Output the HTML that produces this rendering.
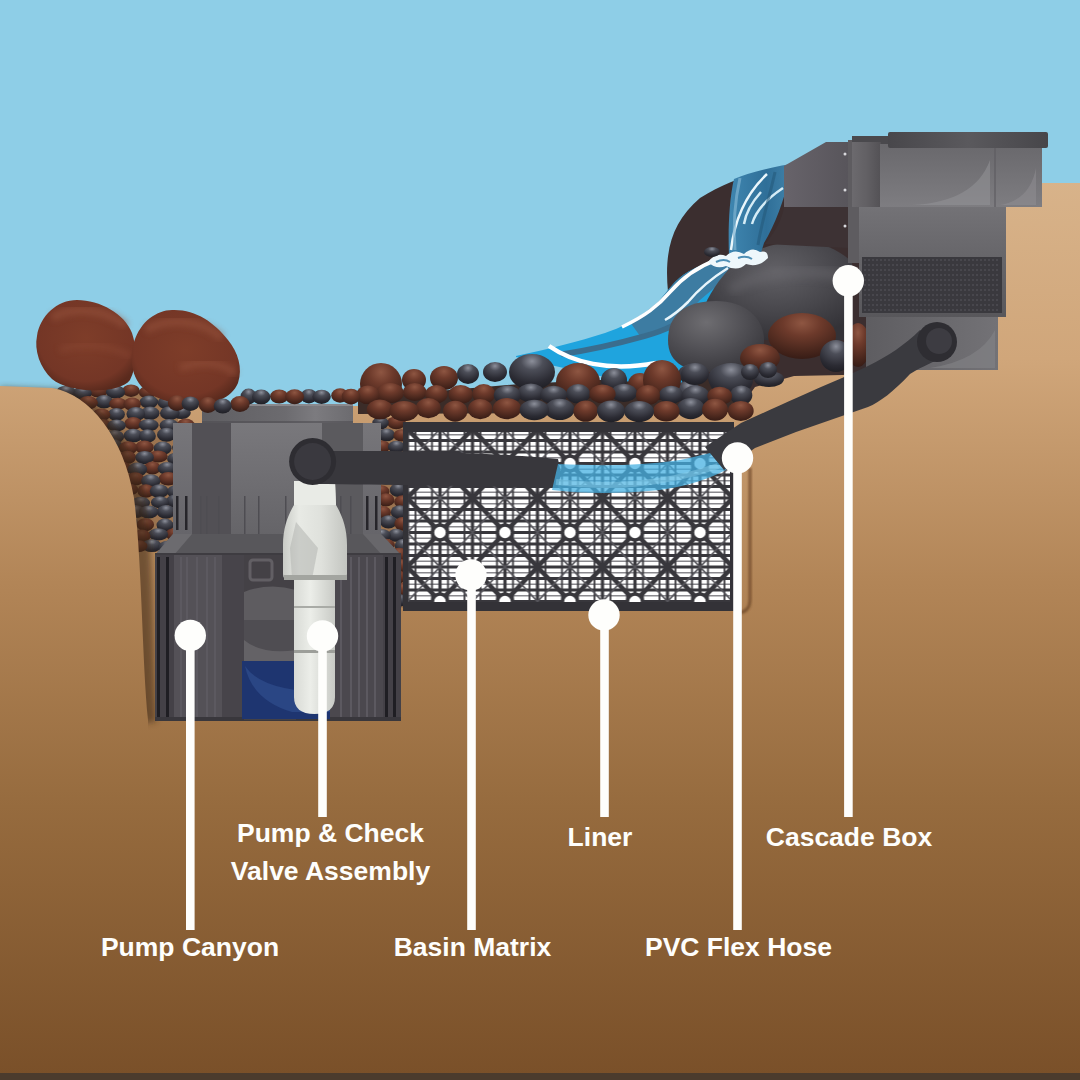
<!DOCTYPE html>
<html><head><meta charset="utf-8"><style>
html,body{margin:0;padding:0;background:#8ecee7;overflow:hidden;}
svg{display:block;}
text{font-family:"Liberation Sans",sans-serif;font-weight:bold;}
</style></head><body>
<svg width="1080" height="1080" viewBox="0 0 1080 1080">
<defs><linearGradient id="gGround" x1="0" y1="180" x2="0" y2="1075" gradientUnits="userSpaceOnUse">
<stop offset="0" stop-color="#d8b38a"/><stop offset="0.2" stop-color="#d0a67a"/>
<stop offset="0.45" stop-color="#b28557"/><stop offset="0.7" stop-color="#966b3e"/>
<stop offset="1" stop-color="#7a5029"/></linearGradient><radialGradient id="rBrown" cx="0.5" cy="0.22" r="0.8"><stop offset="0" stop-color="#8e5642"/><stop offset="0.35" stop-color="#6d3a2b"/><stop offset="0.75" stop-color="#4a271d"/><stop offset="1" stop-color="#351b15"/></radialGradient><radialGradient id="rDark" cx="0.5" cy="0.2" r="0.8"><stop offset="0" stop-color="#8c8f9a"/><stop offset="0.3" stop-color="#4c4e58"/><stop offset="0.75" stop-color="#2b2b33"/><stop offset="1" stop-color="#1f1f25"/></radialGradient><radialGradient id="rBoulder" cx="0.5" cy="0.42" r="0.6"><stop offset="0" stop-color="#7e3d29"/><stop offset="0.8" stop-color="#743626"/><stop offset="1" stop-color="#5a2a1d"/></radialGradient><radialGradient id="rGrayB" cx="0.4" cy="0.3" r="0.7"><stop offset="0" stop-color="#6e6d71"/><stop offset="0.6" stop-color="#4f4e53"/><stop offset="1" stop-color="#3a393e"/></radialGradient><radialGradient id="rGrayB2" cx="0.5" cy="0.3" r="0.7"><stop offset="0" stop-color="#626166"/><stop offset="0.6" stop-color="#47464b"/><stop offset="1" stop-color="#333237"/></radialGradient><linearGradient id="gUpMain" x1="0" y1="0" x2="0" y2="1"><stop offset="0" stop-color="#79787c"/><stop offset="0.6" stop-color="#6d6c70"/><stop offset="1" stop-color="#656468"/></linearGradient><linearGradient id="gUpStrip" x1="0" y1="0" x2="0" y2="1"><stop offset="0" stop-color="#77767a"/><stop offset="1" stop-color="#66656a"/></linearGradient><linearGradient id="gLid" x1="0" y1="0" x2="1" y2="0"><stop offset="0" stop-color="#5f5e62"/><stop offset="0.55" stop-color="#6c6b6f"/><stop offset="0.75" stop-color="#7c7b7f"/><stop offset="1" stop-color="#6c6b6f"/></linearGradient><linearGradient id="gValve" x1="0" y1="0" x2="1" y2="0"><stop offset="0" stop-color="#c9cbc6"/><stop offset="0.25" stop-color="#e8eae5"/><stop offset="0.6" stop-color="#dfe1dc"/><stop offset="1" stop-color="#c3c5c0"/></linearGradient><linearGradient id="gPipe" x1="0" y1="0" x2="1" y2="0"><stop offset="0" stop-color="#d8dad5"/><stop offset="0.4" stop-color="#eceee9"/><stop offset="1" stop-color="#c8cac5"/></linearGradient><linearGradient id="gCasTop" x1="0" y1="0" x2="1" y2="0"><stop offset="0" stop-color="#48474b"/><stop offset="0.5" stop-color="#5a595d"/><stop offset="1" stop-color="#47464a"/></linearGradient><linearGradient id="gCasUp" x1="0" y1="0" x2="0" y2="1"><stop offset="0" stop-color="#69686c"/><stop offset="1" stop-color="#7e7d81"/></linearGradient><linearGradient id="gCasCol" x1="0" y1="0" x2="1" y2="0"><stop offset="0" stop-color="#6c6a6e"/><stop offset="0.5" stop-color="#626064"/><stop offset="1" stop-color="#535155"/></linearGradient><linearGradient id="gCasMid" x1="0" y1="0" x2="0" y2="1"><stop offset="0" stop-color="#737276"/><stop offset="1" stop-color="#58575b"/></linearGradient><linearGradient id="gCasLow" x1="0" y1="0" x2="1" y2="0"><stop offset="0" stop-color="#5e5d61"/><stop offset="1" stop-color="#737276"/></linearGradient><linearGradient id="gLip" x1="0" y1="0" x2="1" y2="0"><stop offset="0" stop-color="#67636a"/><stop offset="1" stop-color="#58555b"/></linearGradient><linearGradient id="gFall" x1="0" y1="0" x2="1" y2="0"><stop offset="0" stop-color="#3f86b0"/><stop offset="0.5" stop-color="#2f6f98"/><stop offset="1" stop-color="#4a8cb2"/></linearGradient><filter id="blur1" x="-20%" y="-20%" width="140%" height="140%"><feGaussianBlur stdDeviation="1"/></filter><filter id="blur2" x="-20%" y="-20%" width="140%" height="140%"><feGaussianBlur stdDeviation="2"/></filter><filter id="blur3" x="-20%" y="-20%" width="140%" height="140%"><feGaussianBlur stdDeviation="3"/></filter><filter id="blur4" x="-30%" y="-30%" width="160%" height="160%"><feGaussianBlur stdDeviation="4"/></filter><pattern id="pMat" x="407.5" y="429" width="65" height="69" patternUnits="userSpaceOnUse">
<rect width="65" height="69" fill="#ffffff"/>
<path d="M0,5.75 H65 M0,17.25 H65 M0,28.75 H65 M0,40.25 H65 M0,51.75 H65 M0,63.25 H65" stroke="#8a898e" stroke-width="1.6"/>
<g stroke="#38373c" fill="none">
<path d="M0,0 H65 M0,11.5 H65 M0,23 H65 M0,34.5 H65 M0,46 H65 M0,57.5 H65 M0,69 H65" stroke-width="3"/>
<path d="M0,0 V69 M32.5,0 V69 M65,0 V69" stroke-width="3.2"/>
<path d="M8,0 V69 M24.5,0 V69 M40.5,0 V69 M57,0 V69" stroke-width="1.8"/>
<path d="M0,0 L65,69 M65,0 L0,69" stroke-width="4.5"/>
<path d="M32.5,0 L65,34.5 L32.5,69 L0,34.5 Z" stroke-width="1.8" stroke="#55545a"/>
<circle cx="32.5" cy="34.5" r="7.5" fill="#ffffff" stroke-width="3.5"/>
</g></pattern></defs>
<rect x="0" y="0" width="1080" height="1080" fill="#8ecee7"/>
<path d="M668,292 C664,250 672,222 700,198 C722,184 745,176 770,170 C785,167 795,164 804,162 L866,150 L866,410 L700,410 Z" fill="#3b2e2f"/>
<path d="M0,387 L60,389 L150,405 L740,408 L755,387 L794,376 L843,375 L866,372 L866,183 L1080,183 L1080,1080 L0,1080 Z" fill="url(#gGround)"/>
<path d="M404,616 L738,616" fill="none" stroke="#5e3f22" stroke-width="7" opacity="0.35" filter="url(#blur4)"/>
<path d="M750,468 L750,600 Q750,612 738,613" fill="none" stroke="#6a4526" stroke-width="3" opacity="0.75" filter="url(#blur1)"/>
<path d="M58,388 L178,395 L178,552 L150,552 Z" fill="#9c7450"/>
<rect x="376" y="418" width="30" height="190" fill="#9c7450"/>
<ellipse cx="131.0" cy="390.7" rx="8.8" ry="6.2" fill="url(#rBrown)"/>
<ellipse cx="98.3" cy="390.8" rx="9.7" ry="6.7" fill="url(#rBrown)"/>
<ellipse cx="181.1" cy="391.2" rx="8.9" ry="6.1" fill="url(#rBrown)"/>
<ellipse cx="115.5" cy="391.9" rx="9.6" ry="6.7" fill="url(#rDark)"/>
<ellipse cx="165.4" cy="391.9" rx="8.9" ry="7.0" fill="url(#rBrown)"/>
<ellipse cx="66.0" cy="392.2" rx="9.9" ry="6.5" fill="url(#rDark)"/>
<ellipse cx="147.6" cy="392.3" rx="8.8" ry="6.2" fill="url(#rBrown)"/>
<ellipse cx="82.6" cy="392.9" rx="9.2" ry="6.6" fill="url(#rDark)"/>
<ellipse cx="104.0" cy="401.7" rx="9.1" ry="6.7" fill="url(#rDark)"/>
<ellipse cx="148.9" cy="402.0" rx="9.3" ry="6.4" fill="url(#rDark)"/>
<ellipse cx="88.0" cy="402.7" rx="9.9" ry="6.8" fill="url(#rBrown)"/>
<ellipse cx="166.7" cy="402.8" rx="9.1" ry="6.4" fill="url(#rDark)"/>
<ellipse cx="118.0" cy="403.8" rx="8.9" ry="6.1" fill="url(#rBrown)"/>
<ellipse cx="132.2" cy="404.3" rx="8.7" ry="6.7" fill="url(#rBrown)"/>
<ellipse cx="182.1" cy="404.4" rx="9.4" ry="7.0" fill="url(#rBrown)"/>
<ellipse cx="181.5" cy="412.8" rx="9.3" ry="6.3" fill="url(#rDark)"/>
<ellipse cx="169.8" cy="413.1" rx="9.9" ry="6.9" fill="url(#rDark)"/>
<ellipse cx="150.1" cy="413.2" rx="9.4" ry="6.7" fill="url(#rDark)"/>
<ellipse cx="135.8" cy="414.0" rx="9.4" ry="6.9" fill="url(#rDark)"/>
<ellipse cx="116.4" cy="414.4" rx="8.5" ry="6.4" fill="url(#rDark)"/>
<ellipse cx="101.4" cy="414.8" rx="9.0" ry="6.3" fill="url(#rBrown)"/>
<ellipse cx="86.3" cy="415.1" rx="9.5" ry="6.1" fill="url(#rDark)"/>
<ellipse cx="396.4" cy="422.7" rx="9.4" ry="6.5" fill="url(#rBrown)"/>
<ellipse cx="380.5" cy="423.0" rx="8.2" ry="6.3" fill="url(#rDark)"/>
<ellipse cx="133.2" cy="423.5" rx="8.9" ry="6.4" fill="url(#rBrown)"/>
<ellipse cx="185.7" cy="424.9" rx="9.0" ry="6.3" fill="url(#rBrown)"/>
<ellipse cx="148.7" cy="425.1" rx="10.0" ry="6.1" fill="url(#rDark)"/>
<ellipse cx="102.5" cy="425.3" rx="8.9" ry="6.2" fill="url(#rBrown)"/>
<ellipse cx="116.5" cy="425.5" rx="9.4" ry="6.1" fill="url(#rDark)"/>
<ellipse cx="169.1" cy="425.5" rx="9.5" ry="6.6" fill="url(#rDark)"/>
<ellipse cx="166.5" cy="434.7" rx="9.5" ry="7.0" fill="url(#rDark)"/>
<ellipse cx="386.3" cy="434.9" rx="8.8" ry="6.4" fill="url(#rDark)"/>
<ellipse cx="401.5" cy="435.4" rx="8.1" ry="6.2" fill="url(#rBrown)"/>
<ellipse cx="133.1" cy="435.6" rx="9.5" ry="6.9" fill="url(#rDark)"/>
<ellipse cx="99.4" cy="435.9" rx="9.6" ry="6.3" fill="url(#rBrown)"/>
<ellipse cx="147.4" cy="436.0" rx="8.5" ry="6.7" fill="url(#rDark)"/>
<ellipse cx="182.8" cy="436.7" rx="9.4" ry="6.4" fill="url(#rDark)"/>
<ellipse cx="114.3" cy="436.7" rx="9.9" ry="6.7" fill="url(#rDark)"/>
<ellipse cx="112.8" cy="445.6" rx="9.4" ry="6.5" fill="url(#rDark)"/>
<ellipse cx="381.8" cy="446.7" rx="8.6" ry="6.2" fill="url(#rBrown)"/>
<ellipse cx="396.4" cy="446.9" rx="8.5" ry="6.1" fill="url(#rDark)"/>
<ellipse cx="144.4" cy="447.3" rx="9.3" ry="6.8" fill="url(#rBrown)"/>
<ellipse cx="180.9" cy="447.8" rx="8.8" ry="6.2" fill="url(#rDark)"/>
<ellipse cx="128.2" cy="447.8" rx="9.5" ry="6.5" fill="url(#rBrown)"/>
<ellipse cx="162.6" cy="448.2" rx="9.0" ry="6.7" fill="url(#rDark)"/>
<ellipse cx="157.9" cy="456.6" rx="9.8" ry="6.0" fill="url(#rBrown)"/>
<ellipse cx="107.6" cy="456.9" rx="9.2" ry="6.8" fill="url(#rBrown)"/>
<ellipse cx="127.3" cy="457.3" rx="8.8" ry="6.5" fill="url(#rBrown)"/>
<ellipse cx="144.6" cy="457.6" rx="9.3" ry="6.7" fill="url(#rDark)"/>
<ellipse cx="388.5" cy="458.2" rx="9.4" ry="6.6" fill="url(#rBrown)"/>
<ellipse cx="402.0" cy="458.4" rx="9.2" ry="6.3" fill="url(#rBrown)"/>
<ellipse cx="175.6" cy="458.9" rx="8.5" ry="6.1" fill="url(#rDark)"/>
<ellipse cx="152.4" cy="468.0" rx="8.5" ry="6.5" fill="url(#rBrown)"/>
<ellipse cx="121.6" cy="468.3" rx="9.7" ry="6.8" fill="url(#rBrown)"/>
<ellipse cx="167.1" cy="468.5" rx="9.5" ry="6.5" fill="url(#rDark)"/>
<ellipse cx="399.5" cy="468.6" rx="9.2" ry="6.8" fill="url(#rBrown)"/>
<ellipse cx="383.0" cy="468.8" rx="9.2" ry="6.4" fill="url(#rBrown)"/>
<ellipse cx="137.4" cy="469.5" rx="9.7" ry="7.0" fill="url(#rDark)"/>
<ellipse cx="385.8" cy="478.1" rx="9.2" ry="6.3" fill="url(#rBrown)"/>
<ellipse cx="400.0" cy="478.6" rx="9.0" ry="6.6" fill="url(#rBrown)"/>
<ellipse cx="168.3" cy="478.8" rx="9.8" ry="6.8" fill="url(#rBrown)"/>
<ellipse cx="135.2" cy="478.9" rx="9.2" ry="6.6" fill="url(#rBrown)"/>
<ellipse cx="115.1" cy="481.0" rx="9.5" ry="6.2" fill="url(#rDark)"/>
<ellipse cx="150.7" cy="481.1" rx="9.7" ry="6.9" fill="url(#rDark)"/>
<ellipse cx="183.6" cy="481.4" rx="10.0" ry="6.5" fill="url(#rBrown)"/>
<ellipse cx="129.0" cy="489.5" rx="9.3" ry="6.0" fill="url(#rBrown)"/>
<ellipse cx="398.3" cy="490.1" rx="8.6" ry="7.0" fill="url(#rDark)"/>
<ellipse cx="145.9" cy="491.0" rx="8.5" ry="6.8" fill="url(#rBrown)"/>
<ellipse cx="159.2" cy="491.1" rx="9.5" ry="6.9" fill="url(#rDark)"/>
<ellipse cx="381.1" cy="491.4" rx="8.4" ry="6.2" fill="url(#rBrown)"/>
<ellipse cx="176.6" cy="491.7" rx="9.8" ry="6.7" fill="url(#rDark)"/>
<ellipse cx="385.9" cy="499.9" rx="8.6" ry="6.6" fill="url(#rBrown)"/>
<ellipse cx="175.3" cy="501.1" rx="9.3" ry="6.5" fill="url(#rDark)"/>
<ellipse cx="402.5" cy="501.7" rx="8.4" ry="6.4" fill="url(#rBrown)"/>
<ellipse cx="159.9" cy="502.3" rx="9.0" ry="6.1" fill="url(#rDark)"/>
<ellipse cx="124.4" cy="502.8" rx="9.2" ry="6.6" fill="url(#rDark)"/>
<ellipse cx="140.7" cy="503.0" rx="9.3" ry="6.3" fill="url(#rDark)"/>
<ellipse cx="135.1" cy="511.6" rx="9.9" ry="6.5" fill="url(#rDark)"/>
<ellipse cx="166.0" cy="511.9" rx="9.2" ry="6.8" fill="url(#rDark)"/>
<ellipse cx="148.7" cy="512.0" rx="9.9" ry="6.5" fill="url(#rDark)"/>
<ellipse cx="399.6" cy="512.2" rx="8.8" ry="7.0" fill="url(#rDark)"/>
<ellipse cx="383.0" cy="512.4" rx="8.0" ry="6.3" fill="url(#rBrown)"/>
<ellipse cx="181.2" cy="512.8" rx="8.5" ry="6.3" fill="url(#rBrown)"/>
<ellipse cx="388.4" cy="521.8" rx="8.7" ry="6.6" fill="url(#rDark)"/>
<ellipse cx="128.8" cy="522.5" rx="8.9" ry="6.7" fill="url(#rDark)"/>
<ellipse cx="402.4" cy="523.8" rx="8.1" ry="6.9" fill="url(#rBrown)"/>
<ellipse cx="145.4" cy="524.7" rx="8.7" ry="6.5" fill="url(#rBrown)"/>
<ellipse cx="181.2" cy="525.1" rx="9.3" ry="6.2" fill="url(#rDark)"/>
<ellipse cx="165.0" cy="525.1" rx="8.5" ry="6.6" fill="url(#rDark)"/>
<ellipse cx="175.1" cy="534.2" rx="9.6" ry="6.3" fill="url(#rBrown)"/>
<ellipse cx="158.2" cy="534.4" rx="9.9" ry="6.2" fill="url(#rDark)"/>
<ellipse cx="396.2" cy="535.3" rx="8.6" ry="6.5" fill="url(#rDark)"/>
<ellipse cx="381.5" cy="535.4" rx="9.3" ry="6.5" fill="url(#rDark)"/>
<ellipse cx="141.7" cy="536.1" rx="8.8" ry="6.7" fill="url(#rBrown)"/>
<ellipse cx="386.2" cy="545.1" rx="8.7" ry="6.3" fill="url(#rBrown)"/>
<ellipse cx="151.7" cy="545.6" rx="9.7" ry="6.4" fill="url(#rDark)"/>
<ellipse cx="402.7" cy="545.7" rx="8.0" ry="6.8" fill="url(#rDark)"/>
<ellipse cx="137.9" cy="546.1" rx="9.6" ry="6.2" fill="url(#rBrown)"/>
<ellipse cx="181.8" cy="546.2" rx="9.3" ry="6.6" fill="url(#rDark)"/>
<ellipse cx="167.7" cy="547.5" rx="9.7" ry="6.8" fill="url(#rDark)"/>
<ellipse cx="399.0" cy="554.7" rx="9.5" ry="6.9" fill="url(#rBrown)"/>
<ellipse cx="380.2" cy="555.0" rx="9.1" ry="6.4" fill="url(#rBrown)"/>
<ellipse cx="400.2" cy="565.8" rx="9.2" ry="6.9" fill="url(#rBrown)"/>
<ellipse cx="388.2" cy="566.2" rx="9.1" ry="6.3" fill="url(#rBrown)"/>
<ellipse cx="397.7" cy="576.9" rx="9.3" ry="6.4" fill="url(#rBrown)"/>
<ellipse cx="383.9" cy="579.0" rx="8.9" ry="6.1" fill="url(#rDark)"/>
<ellipse cx="385.5" cy="588.8" rx="9.0" ry="6.5" fill="url(#rBrown)"/>
<ellipse cx="402.6" cy="589.5" rx="8.5" ry="6.7" fill="url(#rBrown)"/>
<ellipse cx="399.1" cy="600.4" rx="8.5" ry="6.3" fill="url(#rDark)"/>
<ellipse cx="383.8" cy="600.7" rx="8.4" ry="6.1" fill="url(#rBrown)"/>
<path d="M358,398 L520,384 L600,380 L680,376 L735,382 L748,398 L742,412 L358,414 Z" fill="#3b2c28"/>
<path d="M77,300 C100,300 125,314 132,333 C137,348 137,367 130,380 C120,394 70,394 52,379 C40,368 34,350 37,336 C40,316 57,300 77,300 Z" fill="url(#rBoulder)"/>
<path d="M52,318 C70,306 105,308 126,326" stroke="#96533c" stroke-width="8" fill="none" opacity="0.6" filter="url(#blur3)"/>
<path d="M60,350 C80,342 110,345 130,356" stroke="#8c4a34" stroke-width="6" fill="none" opacity="0.5" filter="url(#blur3)"/>
<path d="M172,310 C195,309 214,322 228,340 C238,352 243,368 238,383 C230,402 205,407 180,404 C155,400 138,390 133,370 C129,350 135,330 150,318 C157,313 164,310 172,310 Z" fill="url(#rBoulder)"/>
<path d="M146,330 C165,318 200,318 222,338" stroke="#96533c" stroke-width="8" fill="none" opacity="0.6" filter="url(#blur3)"/>
<path d="M180,368 C200,360 222,362 236,374" stroke="#96533c" stroke-width="7" fill="none" opacity="0.55" filter="url(#blur3)"/>
<path d="M0,387 L58,389 C99,395 136,440 146,500 C154,560 152,660 156,722 L0,730 Z" fill="#3a2816" opacity="0.55" filter="url(#blur3)"/>
<path d="M0,386 L52,388 C90,394 124,438 134,498 C142,560 142,660 148,720 L148,1080 L0,1080 Z" fill="url(#gGround)"/>
<rect x="202" y="404" width="151" height="20" fill="url(#gLid)"/>
<rect x="202" y="404" width="151" height="2" fill="#8a898d"/>
<rect x="202" y="421" width="151" height="3" fill="#4e4d51" opacity="0.6"/>
<rect x="173" y="423" width="208" height="113" fill="url(#gUpMain)"/>
<rect x="173" y="423" width="19" height="111" fill="url(#gUpStrip)"/>
<rect x="363" y="423" width="18" height="111" fill="url(#gUpStrip)"/>
<rect x="192" y="423" width="39" height="113" fill="#525055"/>
<rect x="322" y="423" width="41" height="113" fill="#5b5a5e"/>
<rect x="176" y="496" width="2.5" height="34" fill="#26252a"/>
<rect x="185" y="496" width="2.5" height="34" fill="#26252a"/>
<rect x="366" y="496" width="2.5" height="34" fill="#26252a"/>
<rect x="375" y="496" width="2.5" height="34" fill="#26252a"/>
<rect x="200" y="496" width="1.5" height="38" fill="#4e4d52"/>
<rect x="206" y="496" width="1.5" height="38" fill="#4e4d52"/>
<rect x="218" y="496" width="1.5" height="38" fill="#4e4d52"/>
<rect x="244" y="496" width="1.5" height="38" fill="#4e4d52"/>
<rect x="258" y="496" width="1.5" height="38" fill="#4e4d52"/>
<rect x="285" y="496" width="1.5" height="38" fill="#4e4d52"/>
<rect x="300" y="496" width="1.5" height="38" fill="#4e4d52"/>
<rect x="340" y="496" width="1.5" height="38" fill="#4e4d52"/>
<rect x="350" y="496" width="1.5" height="38" fill="#4e4d52"/>
<path d="M173,534 L381,534 L401,555 L155,555 Z" fill="#58575b"/>
<path d="M173,534 L192,534 L174,555 L155,555 Z" fill="#6c6b6f"/>
<path d="M363,534 L381,534 L401,555 L382,555 Z" fill="#68676b"/>
<rect x="155" y="553" width="246" height="2" fill="#3e3c41"/>
<rect x="155" y="555" width="246" height="166" fill="#4b484e"/>
<rect x="174" y="555" width="48" height="166" fill="#545157"/>
<rect x="222" y="555" width="22" height="166" fill="#47444a"/>
<rect x="155" y="555" width="19" height="166" fill="#444147"/>
<rect x="383" y="555" width="18" height="166" fill="#444147"/>
<rect x="157" y="557" width="3" height="161" fill="#1f1e23"/>
<rect x="166" y="557" width="3" height="161" fill="#1f1e23"/>
<rect x="385" y="557" width="3" height="161" fill="#1f1e23"/>
<rect x="393" y="557" width="3" height="161" fill="#1f1e23"/>
<rect x="180" y="557" width="2" height="161" fill="#5c5960"/>
<rect x="186" y="557" width="2" height="161" fill="#5c5960"/>
<rect x="196" y="557" width="2" height="161" fill="#5c5960"/>
<rect x="206" y="557" width="2" height="161" fill="#5c5960"/>
<rect x="214" y="557" width="2" height="161" fill="#5c5960"/>
<rect x="340" y="557" width="2" height="161" fill="#5c5960"/>
<rect x="350" y="557" width="2" height="161" fill="#5c5960"/>
<rect x="358" y="557" width="2" height="161" fill="#5c5960"/>
<rect x="366" y="557" width="2" height="161" fill="#5c5960"/>
<rect x="374" y="557" width="2" height="161" fill="#5c5960"/>
<rect x="155" y="717" width="246" height="4" fill="#39373c"/>
<rect x="244" y="555" width="52" height="165" fill="#444146"/>
<rect x="250" y="560" width="22" height="20" rx="3" fill="none" stroke="#625f64" stroke-width="3"/>
<path d="M244,592 Q270,582 296,590 L296,620 L244,620 Z" fill="#5e5c60"/>
<rect x="244" y="620" width="52" height="41" fill="#4f4d52"/>
<path d="M244,640 Q262,655 296,650 L296,661 L244,661 Z" fill="#646266"/>
<rect x="242" y="661" width="88" height="58" fill="#1e3570"/>
<path d="M245,666 Q252,700 292,712 L330,712 L330,692 Q262,692 245,666 Z" fill="#2a4684"/>
<path d="M294,481 L335,481 L336,505 C342,515 347,528 347,545 L347,574 Q347,580 341,580 L289,580 Q283,580 283,574 L283,545 C283,528 288,515 294,505 Z" fill="url(#gValve)"/>
<path d="M294,481 L335,481 L336,505 L294,505 Z" fill="#e9ebe6"/>
<path d="M296,522 L318,548 L312,579 L292,579 L290,548 Z" fill="#b3b5b0" opacity="0.55"/>
<rect x="284" y="575" width="63" height="5" fill="#a3a5a0"/>
<path d="M294,580 L335,580 L335,697 Q335,714 314.5,714 Q294,714 294,697 Z" fill="url(#gPipe)"/>
<rect x="294" y="606" width="41" height="2" fill="#a9aba6"/>
<rect x="294" y="650" width="41" height="3" fill="#9c9e99"/>
<rect x="403" y="422" width="331" height="189" fill="#333237"/>
<rect x="408" y="432" width="322" height="170" fill="url(#pMat)"/>
<path d="M313,451 L391,451 C450,452 520,455 558,459 L561,473 L558,487 C500,487 420,485 313,484 Z" fill="#38373c"/>
<circle cx="312.6" cy="461.5" r="23.5" fill="#2e2d32"/>
<circle cx="312.6" cy="461.5" r="18.5" fill="#3a393f"/>
<path d="M558,464 C600,466 640,466 680,460 C700,456 712,452 724,450 L726,470 C710,478 690,486 660,490 C620,494 585,494 552,490 Z" fill="#45b0e2" opacity="0.75"/>
<path d="M556,482 C610,488 660,486 718,466" stroke="#8fd0ea" stroke-width="6" fill="none" opacity="0.45"/>
<path d="M516,356 C545,350 580,341 605,333 C622,327 632,322 640,317 C650,310 655,305 660,300 C668,290 672,285 676,281 C685,272 700,265 720,258 L760,256 L760,300 L700,330 L680,388 C640,386 600,376 555,366 C540,363 528,360 516,357 Z" fill="#1fa4de"/>
<path d="M630,322 C645,313 655,305 660,300 C668,290 672,285 676,281 C685,272 700,265 720,258 L745,262 L700,300 L672,330 L640,336 Z" fill="#3d7ca2"/>
<path d="M563,354 C590,350 620,343 645,336 C656,333 664,330 672,326" stroke="#3a6d8e" stroke-width="5.5" stroke-linecap="round" fill="none"/>
<path d="M716,260 C700,266 684,276 670,292 C658,306 645,316 622,327" stroke="#ffffff" stroke-width="3.5" fill="none"/>
<path d="M728,268 C712,278 698,290 688,302 C680,310 674,315 665,320" stroke="#e8f5fb" stroke-width="2.5" fill="none"/>
<path d="M549,346 C572,362 608,372 656,363" stroke="#ffffff" stroke-width="4.5" fill="none"/>
<path d="M700,320 C705,300 715,285 728,270 C745,252 770,244 790,242 C815,240 835,246 852,262 L852,340 L700,340 Z" fill="url(#rGrayB2)"/>
<path d="M730,290 C760,272 800,268 845,276" stroke="#6a696e" stroke-width="10" fill="none" opacity="0.5" filter="url(#blur4)"/>
<path d="M734,179 C750,172 775,166 804,162 L790,175 C784,200 775,225 764,243 L760,256 L729,256 C728,230 729,200 734,179 Z" fill="url(#gFall)"/>
<path d="M767,174 C750,190 735,215 731,250" stroke="#eaf6fb" stroke-width="2.5" fill="none"/>
<path d="M761,192 C752,202 746,212 744,224" stroke="#d5ecf6" stroke-width="2.5" fill="none"/>
<path d="M783,188 C768,198 756,210 752,224" stroke="#d5ecf6" stroke-width="2.5" fill="none"/>
<path d="M740,178 C735,200 733,225 735,250" stroke="#7fb3d1" stroke-width="3" fill="none" opacity="0.7"/>
<path d="M775,172 C770,195 762,220 758,245" stroke="#245a7c" stroke-width="3" fill="none" opacity="0.6"/>
<path d="M708,262 Q716,252 726,256 Q734,248 744,254 Q752,246 760,252 Q768,250 768,258 Q758,268 746,264 Q738,272 726,266 Q716,270 708,262 Z" fill="#eef7fb"/>
<path d="M716,262 Q724,258 730,262 M738,258 Q746,255 752,259" stroke="#4f8fb5" stroke-width="2" fill="none"/>
<ellipse cx="712.0" cy="252.0" rx="8.0" ry="5.0" fill="url(#rDark)"/>
<path d="M668,340 C668,315 685,301 716,301 C745,301 764,318 764,340 C764,365 745,372 716,372 C688,372 668,365 668,340 Z" fill="url(#rGrayB)"/>
<ellipse cx="802.0" cy="336.0" rx="34.0" ry="23.0" fill="url(#rBrown)"/>
<ellipse cx="760.0" cy="358.0" rx="20.0" ry="14.0" fill="url(#rBrown)"/>
<ellipse cx="858.0" cy="345.0" rx="12.0" ry="22.0" fill="url(#rBrown)"/>
<ellipse cx="836.0" cy="356.0" rx="16.0" ry="16.0" fill="url(#rDark)"/>
<ellipse cx="692.0" cy="374.0" rx="14.0" ry="10.0" fill="url(#rDark)"/>
<ellipse cx="688.0" cy="392.0" rx="13.0" ry="11.0" fill="url(#rDark)"/>
<ellipse cx="730.0" cy="378.0" rx="22.0" ry="14.0" fill="url(#rDark)"/>
<ellipse cx="769.0" cy="379.0" rx="15.0" ry="8.0" fill="url(#rDark)"/>
<ellipse cx="381.0" cy="384.0" rx="21.0" ry="21.0" fill="url(#rBrown)"/>
<ellipse cx="414.0" cy="380.0" rx="12.0" ry="11.0" fill="url(#rBrown)"/>
<ellipse cx="444.0" cy="378.0" rx="14.0" ry="12.0" fill="url(#rBrown)"/>
<ellipse cx="468.0" cy="374.0" rx="11.0" ry="10.0" fill="url(#rDark)"/>
<ellipse cx="495.0" cy="372.0" rx="12.0" ry="10.0" fill="url(#rDark)"/>
<ellipse cx="532.0" cy="372.0" rx="23.0" ry="18.0" fill="url(#rDark)"/>
<ellipse cx="578.0" cy="382.0" rx="22.0" ry="19.0" fill="url(#rBrown)"/>
<ellipse cx="614.0" cy="380.0" rx="13.0" ry="12.0" fill="url(#rDark)"/>
<ellipse cx="640.0" cy="384.0" rx="12.0" ry="11.0" fill="url(#rBrown)"/>
<ellipse cx="662.0" cy="380.0" rx="19.0" ry="20.0" fill="url(#rBrown)"/>
<ellipse cx="695.0" cy="374.0" rx="14.0" ry="11.0" fill="url(#rDark)"/>
<ellipse cx="731.0" cy="380.0" rx="22.0" ry="17.0" fill="url(#rDark)"/>
<ellipse cx="750.0" cy="372.0" rx="9.0" ry="8.0" fill="url(#rDark)"/>
<ellipse cx="768.0" cy="370.0" rx="9.0" ry="8.0" fill="url(#rDark)"/>
<ellipse cx="414.7" cy="392.0" rx="11.8" ry="9.0" fill="url(#rBrown)"/>
<ellipse cx="624.0" cy="392.9" rx="13.0" ry="9.1" fill="url(#rDark)"/>
<ellipse cx="389.9" cy="393.0" rx="13.9" ry="10.1" fill="url(#rBrown)"/>
<ellipse cx="530.9" cy="393.0" rx="13.4" ry="9.4" fill="url(#rDark)"/>
<ellipse cx="578.1" cy="393.8" rx="12.0" ry="9.7" fill="url(#rDark)"/>
<ellipse cx="602.5" cy="393.9" rx="13.1" ry="9.4" fill="url(#rBrown)"/>
<ellipse cx="483.7" cy="394.0" rx="11.4" ry="10.0" fill="url(#rBrown)"/>
<ellipse cx="436.3" cy="394.2" rx="11.2" ry="9.1" fill="url(#rBrown)"/>
<ellipse cx="460.6" cy="394.5" rx="12.1" ry="9.6" fill="url(#rBrown)"/>
<ellipse cx="367.8" cy="394.8" rx="11.6" ry="9.3" fill="url(#rBrown)"/>
<ellipse cx="671.1" cy="394.9" rx="12.1" ry="9.1" fill="url(#rDark)"/>
<ellipse cx="553.6" cy="395.0" rx="13.5" ry="9.2" fill="url(#rDark)"/>
<ellipse cx="647.9" cy="395.1" rx="12.0" ry="10.1" fill="url(#rBrown)"/>
<ellipse cx="507.3" cy="395.3" rx="13.5" ry="9.9" fill="url(#rDark)"/>
<ellipse cx="741.2" cy="395.3" rx="11.1" ry="9.8" fill="url(#rDark)"/>
<ellipse cx="340.0" cy="395.5" rx="8.8" ry="7.2" fill="url(#rBrown)"/>
<ellipse cx="695.5" cy="395.7" rx="13.8" ry="10.1" fill="url(#rDark)"/>
<ellipse cx="719.7" cy="396.0" rx="12.4" ry="9.3" fill="url(#rBrown)"/>
<ellipse cx="308.9" cy="396.2" rx="8.2" ry="7.2" fill="url(#rDark)"/>
<ellipse cx="248.6" cy="396.5" rx="8.1" ry="7.9" fill="url(#rDark)"/>
<ellipse cx="279.2" cy="396.5" rx="9.2" ry="7.1" fill="url(#rBrown)"/>
<ellipse cx="351.0" cy="396.6" rx="9.3" ry="7.8" fill="url(#rBrown)"/>
<ellipse cx="294.6" cy="396.7" rx="9.4" ry="7.5" fill="url(#rBrown)"/>
<ellipse cx="321.6" cy="396.8" rx="9.2" ry="7.1" fill="url(#rDark)"/>
<ellipse cx="261.2" cy="396.9" rx="9.2" ry="7.4" fill="url(#rDark)"/>
<ellipse cx="177.0" cy="403.1" rx="9.2" ry="7.8" fill="url(#rBrown)"/>
<ellipse cx="190.4" cy="403.7" rx="8.8" ry="7.2" fill="url(#rDark)"/>
<ellipse cx="239.9" cy="404.0" rx="9.8" ry="7.9" fill="url(#rBrown)"/>
<ellipse cx="207.9" cy="405.0" rx="9.2" ry="7.9" fill="url(#rBrown)"/>
<ellipse cx="222.7" cy="406.0" rx="9.0" ry="7.5" fill="url(#rDark)"/>
<ellipse cx="428.3" cy="408.2" rx="12.5" ry="10.1" fill="url(#rBrown)"/>
<ellipse cx="507.0" cy="408.6" rx="14.2" ry="10.6" fill="url(#rBrown)"/>
<ellipse cx="690.8" cy="408.6" rx="13.9" ry="10.6" fill="url(#rDark)"/>
<ellipse cx="480.2" cy="409.1" rx="12.3" ry="10.2" fill="url(#rBrown)"/>
<ellipse cx="559.7" cy="409.4" rx="14.9" ry="10.6" fill="url(#rDark)"/>
<ellipse cx="379.9" cy="409.5" rx="13.2" ry="10.0" fill="url(#rBrown)"/>
<ellipse cx="715.0" cy="409.7" rx="12.9" ry="11.0" fill="url(#rBrown)"/>
<ellipse cx="534.3" cy="410.0" rx="14.7" ry="10.2" fill="url(#rDark)"/>
<ellipse cx="740.8" cy="410.9" rx="12.9" ry="10.0" fill="url(#rBrown)"/>
<ellipse cx="404.0" cy="411.0" rx="14.6" ry="10.1" fill="url(#rBrown)"/>
<ellipse cx="666.3" cy="411.2" rx="13.3" ry="10.3" fill="url(#rBrown)"/>
<ellipse cx="455.2" cy="411.2" rx="12.2" ry="10.5" fill="url(#rBrown)"/>
<ellipse cx="585.6" cy="411.2" rx="12.2" ry="10.6" fill="url(#rBrown)"/>
<ellipse cx="611.0" cy="411.3" rx="14.0" ry="10.9" fill="url(#rDark)"/>
<ellipse cx="639.1" cy="411.6" rx="14.9" ry="10.6" fill="url(#rDark)"/>
<path d="M784,207 L848,207 L848,248 L765,244 C775,232 782,220 784,207 Z" fill="#3d3234"/>
<path d="M784,207 L784,166 L826,142 L848,142 L848,207 Z" fill="url(#gLip)"/>
<circle cx="845" cy="154" r="1.5" fill="#d8d8dc"/><circle cx="845" cy="190" r="1.5" fill="#d8d8dc"/><circle cx="845" cy="226" r="1.5" fill="#d8d8dc"/>
<rect x="848" y="140" width="12" height="123" fill="#5e5c60"/>
<rect x="852" y="136" width="37" height="8" fill="#4a494d"/>
<rect x="852" y="142" width="29" height="65" fill="url(#gCasCol)"/>
<rect x="880" y="144" width="162" height="63" fill="url(#gCasUp)"/>
<path d="M912,205 Q975,202 990,160 L990,205 Z" fill="#949397" opacity="0.55"/>
<path d="M1000,205 Q1030,200 1036,168 L1036,205 Z" fill="#949397" opacity="0.45"/>
<rect x="994" y="146" width="2" height="61" fill="#5d5c60" opacity="0.6"/>
<rect x="888" y="132" width="160" height="16" rx="2" fill="url(#gCasTop)"/>
<rect x="859" y="207" width="147" height="110" fill="url(#gCasMid)"/>
<rect x="862" y="257" width="140" height="56" fill="#3a393e"/>
<path d="M864,260 H1000" stroke="#57565c" stroke-width="1.2" stroke-dasharray="2 2"/>
<path d="M864,265 H1000" stroke="#57565c" stroke-width="1.2" stroke-dasharray="2 2"/>
<path d="M864,270 H1000" stroke="#57565c" stroke-width="1.2" stroke-dasharray="2 2"/>
<path d="M864,275 H1000" stroke="#57565c" stroke-width="1.2" stroke-dasharray="2 2"/>
<path d="M864,280 H1000" stroke="#57565c" stroke-width="1.2" stroke-dasharray="2 2"/>
<path d="M864,285 H1000" stroke="#57565c" stroke-width="1.2" stroke-dasharray="2 2"/>
<path d="M864,290 H1000" stroke="#57565c" stroke-width="1.2" stroke-dasharray="2 2"/>
<path d="M864,295 H1000" stroke="#57565c" stroke-width="1.2" stroke-dasharray="2 2"/>
<path d="M864,300 H1000" stroke="#57565c" stroke-width="1.2" stroke-dasharray="2 2"/>
<path d="M864,305 H1000" stroke="#57565c" stroke-width="1.2" stroke-dasharray="2 2"/>
<path d="M864,310 H1000" stroke="#57565c" stroke-width="1.2" stroke-dasharray="2 2"/>
<rect x="866" y="317" width="132" height="53" fill="url(#gCasLow)"/>
<path d="M930,368 Q980,360 995,330 L995,368 Z" fill="#848387" opacity="0.6"/>
<path d="M705,447 L741,423 C770,410 800,396 842,378 L868,366 C888,356 905,345 920,330 L950,352 C936,362 922,366 910,374 C893,392 880,402 868,407 L842,416 L796,432 L755,448 L724,470 Z" fill="#3a3a3f"/>
<circle cx="937" cy="342" r="20" fill="#2e2d32"/>
<circle cx="939" cy="341" r="13" fill="#3d3c42"/>
<rect x="186.0" y="636" width="8.6" height="294" fill="#fefefc"/>
<circle cx="190.3" cy="635.5" r="15.7" fill="#fefefc"/>
<rect x="318.2" y="636" width="8.6" height="181" fill="#fefefc"/>
<circle cx="322.5" cy="636" r="15.7" fill="#fefefc"/>
<rect x="467.2" y="575" width="8.6" height="355" fill="#fefefc"/>
<circle cx="471" cy="575" r="15.7" fill="#fefefc"/>
<rect x="600.2" y="615" width="8.6" height="202" fill="#fefefc"/>
<circle cx="604" cy="615" r="15.7" fill="#fefefc"/>
<rect x="733.2" y="458" width="8.6" height="472" fill="#fefefc"/>
<circle cx="737.5" cy="458" r="15.7" fill="#fefefc"/>
<rect x="844.1" y="281" width="8.6" height="536" fill="#fefefc"/>
<circle cx="848.3" cy="280.8" r="15.7" fill="#fefefc"/>
<text x="190" y="956" text-anchor="middle" font-size="26.5" fill="#fefefc">Pump Canyon</text>
<text x="330.5" y="842" text-anchor="middle" font-size="26.5" fill="#fefefc">Pump &amp; Check</text>
<text x="330.5" y="879.5" text-anchor="middle" font-size="26.5" fill="#fefefc">Valve Assembly</text>
<text x="472.5" y="956" text-anchor="middle" font-size="26.5" fill="#fefefc">Basin Matrix</text>
<text x="600" y="846" text-anchor="middle" font-size="26.5" fill="#fefefc">Liner</text>
<text x="738.5" y="956" text-anchor="middle" font-size="26.5" fill="#fefefc">PVC Flex Hose</text>
<text x="849" y="846" text-anchor="middle" font-size="26.5" fill="#fefefc">Cascade Box</text>
<rect x="0" y="1073" width="1080" height="7" fill="#4b3b2d"/>
</svg></body></html>
